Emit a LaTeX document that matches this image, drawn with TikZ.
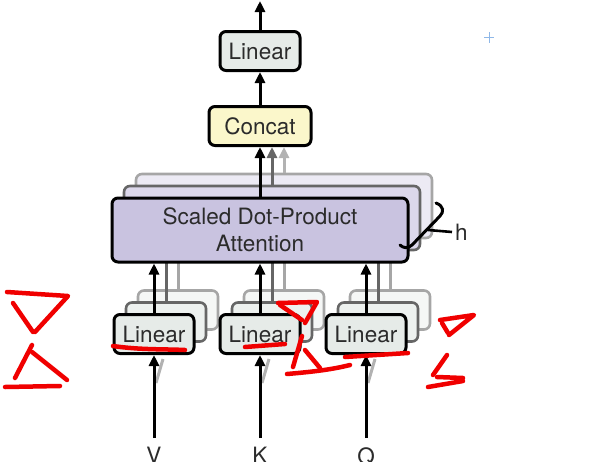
\documentclass[tikz,border=0pt]{standalone}
\usepackage{fontspec}
\setmainfont{TeX Gyre Heros}
\usetikzlibrary{arrows.meta,calc}
\definecolor{linfill}{HTML}{E6EBE8}
\definecolor{catfill}{HTML}{FBF7CB}
\definecolor{attfill}{HTML}{C9C3E0}
\definecolor{txt}{HTML}{2B2B2B}
\definecolor{scrib}{HTML}{F00000}
\definecolor{cross}{HTML}{8FB8E8}
\tikzset{
  basebox/.style={draw=black, line width=3pt, rounded corners=6pt, inner sep=0pt,
    text=txt, font=\fontsize{22.5}{27}\selectfont, align=center},
  linbox/.style={basebox, fill=linfill, minimum width=80pt, minimum height=39pt},
  catbox/.style={basebox, fill=catfill, minimum width=102pt, minimum height=39pt},
  attbox/.style={basebox, fill=attfill, minimum width=296pt, minimum height=64pt},
  backA/.style={draw=black!60, line width=2.6pt},
  backB/.style={draw=black!35, line width=2.6pt},
  arr/.style={line width=3pt, -{Triangle[length=11pt,width=10pt]}},
  arrA/.style={arr, draw=black!60, -{Triangle[length=11pt,width=10pt,fill=black!60]}},
  arrB/.style={arr, draw=black!30, -{Triangle[length=11pt,width=10pt,fill=black!30]}},
  lnA/.style={line width=3pt, draw=black!60},
  lnB/.style={line width=3pt, draw=black!35},
  lab/.style={inner sep=0pt, text=txt, font=\fontsize{22.5}{27}\selectfont},
  red/.style={draw=scrib, line width=4.5pt, line cap=round, line join=round},
}
\begin{document}
\begin{tikzpicture}[x=1pt,y=-1pt]
\useasboundingbox (0,0) rectangle (616,461);

% ---- top part
\coordinate (out) at (260,1);
\node[linbox] (top) at (260,51) {Linear};
\node[catbox] (cat) at (260,126) {Concat};
\draw[arr] (top.north) -- (out);
\draw[arr] (cat.north) -- (top.south);

% ---- attention layers
\node[attbox, backB, fill=attfill!35!white] (att3) at (284,206) {};
\draw[arrB] (att3.north) -- (att3.north |- cat.south);
\node[attbox, backA, fill=attfill!65!white] (att2) at (272,218) {};
\draw[arrA] (att2.north) -- (att2.north |- cat.south);

% ---- linear layers (back)
\foreach \n/\x in {V/154,K/260,Q/366}{
  \node[linbox, backB, fill=linfill!40!white] (lin\n3) at (\x+24,310) {};
  \draw[lnB] (lin\n3.north) -- (lin\n3.north |- att2.south);
  \node[linbox, backA, fill=linfill!70!white] (lin\n2) at (\x+12,322) {};
  \draw[lnA] (lin\n2.north) -- (lin\n2.north |- att2.south);
}

\node[attbox] (att) at (260,230) {Scaled Dot-Product\\Attention};
\draw[arr] (att.north) -- (cat.south);

\foreach \n/\x in {V/154,K/260,Q/366}{
  \node[linbox] (lin\n) at (\x,334) {Linear};
  \node[lab, anchor=north] (in\n) at (\x,447) {\n};
  \draw[line width=3pt, draw=black!30] ($(lin\n.south)+(2,28)$) -- ($(lin\n.south)+(9,4)$);
  \draw[arr, shorten <=9pt] (in\n.north) -- (lin\n.south);
  \draw[arr] (lin\n.north) -- (lin\n.north |- att.south);
}

% ---- h bracket
\draw[line width=3pt, line cap=round] (436,203) .. controls (444,206) and (444,212) .. (440,216)
  -- (412,245) .. controls (408,249) and (403,248) .. (400,245);
\coordinate (hl) at (428,230);
\node[lab, anchor=west] (h) at (455,232) {h};
\draw[line width=2.6pt] (hl) -- ([xshift=-3pt]h.west);

% ---- blue crosshair
\draw[cross, line width=1pt] (484,37) -- (494,37);
\draw[cross, line width=1pt] (489,32) -- (489,43);

% ---- red scribbles
\draw[red] (7,292) -- (68,296) -- (35,332);
\draw[red] (13,303) -- (33,332);
\draw[red] (32,345) -- (15,378);
\draw[red] (32,352) -- (67,380);
\draw[red] (5,387) -- (60,386);

\draw[red] (113,346) .. controls (140,350) and (165,349) .. (185,350);
\draw[red] (245,347) -- (285,344);
\draw[red] (345,357) -- (408,353);

\draw[red] (278,303) -- (317,302) -- (305,323);
\draw[red] (280,305) -- (302,320);
\draw[red] (302,336) -- (293,367);
\draw[red] (305,350) -- (320,368);
\draw[red] (287,374) .. controls (310,372) and (330,370) .. (350,365);

\draw[red] (440,320) -- (474,315) -- (449,335);
\draw[red] (442,323) -- (448,333);
\draw[red] (447,355) -- (433,375);
\draw[red] (437,377) -- (463,378);
\draw[red] (428,387) -- (463,381);
\end{tikzpicture}
\end{document}
